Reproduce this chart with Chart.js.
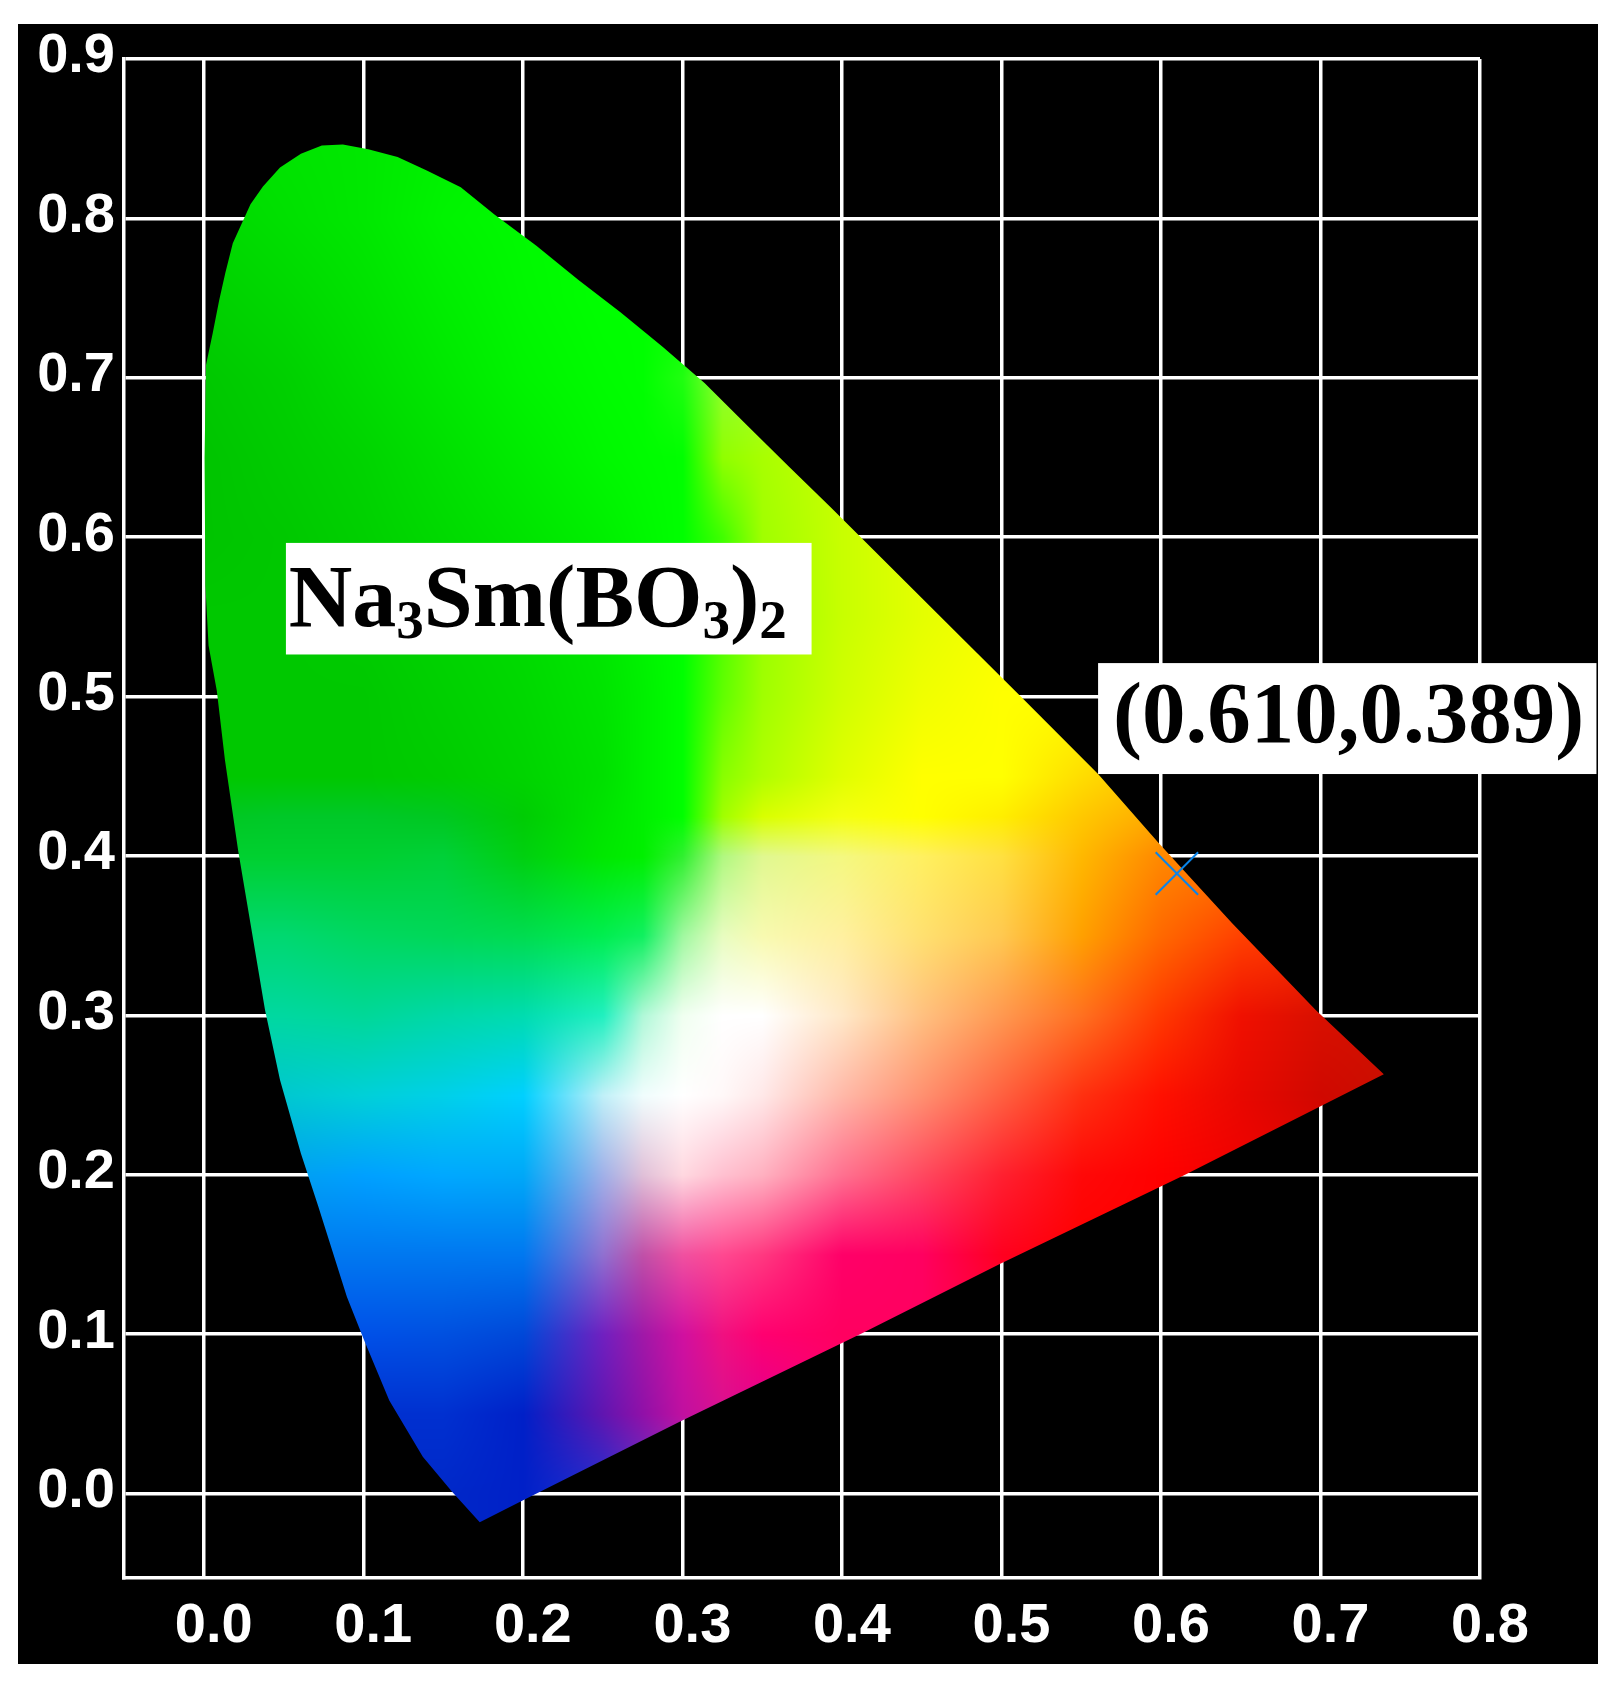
<!DOCTYPE html>
<html>
<head>
<meta charset="utf-8">
<title>CIE diagram</title>
<script src="https://cdn.jsdelivr.net/npm/chart.js@4/dist/chart.umd.js"></script>
<style>
    html, body { margin: 0; padding: 0; background: #fff; overflow: hidden; }
    #cieChart { position: absolute; left: 18px; top: 24px; background: #000; }
</style>
</head>
<body>
<canvas id="cieChart" width="1580" height="1640"></canvas>
<script>
const xTicks = [0, 0.1, 0.2, 0.3, 0.4, 0.5, 0.6, 0.7, 0.8];
const yTicks = [0, 0.1, 0.2, 0.3, 0.4, 0.5, 0.6, 0.7, 0.8, 0.9];
const xTickLabels = ['0.0', '0.1', '0.2', '0.3', '0.4', '0.5', '0.6', '0.7', '0.8'];
const yTickLabels = ['0.0', '0.1', '0.2', '0.3', '0.4', '0.5', '0.6', '0.7', '0.8', '0.9'];

// gamut outline
const locusX = [0.173, 0.1558, 0.1373, 0.1163, 0.1004, 0.0897, 0.0716, 0.0609, 0.0478, 0.0384, 0.0293, 0.0215, 0.0133, 0.0082, 0.003, 0.001, 0.0005, 0.0014, 0.0056, 0.0096, 0.0135, 0.0182, 0.0293, 0.0371, 0.0478, 0.0609, 0.074, 0.0872, 0.1031, 0.1215, 0.1398, 0.1611, 0.1822, 0.2085, 0.2349, 0.2612, 0.2876, 0.3139, 0.3402, 0.3664, 0.3928, 0.4765, 0.5137, 0.5606, 0.5987, 0.6445, 0.697, 0.7397, 0.6145, 0.499, 0.413, 0.298, 0.2005, 0.173];
const locusY = [-0.018, 0.001, 0.023, 0.0583, 0.0964, 0.1235, 0.1807, 0.2134, 0.2595, 0.3034, 0.3575, 0.4037, 0.46, 0.5035, 0.532, 0.57, 0.65, 0.708, 0.728, 0.7484, 0.7657, 0.7844, 0.8088, 0.82, 0.832, 0.8405, 0.8457, 0.8463, 0.8434, 0.8385, 0.83, 0.8195, 0.8025, 0.7829, 0.7613, 0.7411, 0.7195, 0.6967, 0.6706, 0.6447, 0.6189, 0.5355, 0.4985, 0.4514, 0.408, 0.358, 0.3034, 0.263, 0.1997, 0.144, 0.1007, 0.0449, -0.004, -0.018];

// measured colour point
const markX = [0.610];
const markY = [0.389];
const markLabel = '(0.610,0.389)';
const formulaRuns = [['Na', 0], ['3', 1], ['Sm(BO', 0], ['3', 1], [')', 0], ['2', 1]];

// colours at these chromaticity stops
const colourStopsX = [0, 0.05, 0.1, 0.15, 0.2, 0.25, 0.275, 0.3, 0.325, 0.35, 0.4, 0.45, 0.5, 0.55, 0.6, 0.65, 0.7, 0.75];
const colourStopsY = [0.85, 0.8, 0.75, 0.7, 0.65, 0.6, 0.55, 0.5, 0.45, 0.425, 0.4, 0.35, 0.3, 0.25, 0.2, 0.15, 0.1, 0.05, 0, -0.06];
const colourGrid = [
    '00e000 00e400 00e800 00f000 00f400 00f800 00ff00 00ff00 00ff00 00ff00 00ff00 00ff00 00ff00 00ff00 00ff00 00ff00 00ff00 00ff00',
    '00d800 00e000 00e800 00f400 00fa00 00ff00 00ff00 00ff00 00ff00 00ff00 00ff00 00ff00 00ff00 00ff00 00ff00 00ff00 00ff00 00ff00',
    '00d000 00d800 00e200 00ee00 00f800 00ff00 00ff00 00ff00 00ff00 00ff00 00ff00 00ff00 00ff00 00ff00 00ff00 00ff00 00ff00 00ff00',
    '00c800 00d000 00dc00 00e800 00f400 00fc00 00ff00 20ff10 90ff30 a0ff30 c0ff00 c0ff00 c0ff00 c0ff00 c0ff00 c0ff00 c0ff00 c0ff00',
    '00c400 00cc00 00d400 00e000 00ec00 00f800 00fc00 00ff00 90ff00 a8ff00 c8ff00 e0ff00 e0ff00 e0ff00 e0ff00 e0ff00 e0ff00 e0ff00',
    '00c400 00c800 00d000 00da00 00e400 00f000 00f800 00ff00 40ff00 a0ff00 c8ff00 e4ff00 f8ff00 ffff00 ffff00 ffff00 ffff00 ffff00',
    '00c800 00c800 00cc00 00d400 00dc00 00e800 00f400 00ff00 50ff00 98ff00 c8ff00 e4ff00 f8ff00 ffff00 ffff00 ffff00 ffff00 ffff00',
    '00c800 00c800 00c800 00d000 00d800 00e400 00f000 00ff00 60ff00 a0ff00 d0ff00 f0ff00 ffff00 ffff00 fff000 fff000 fff000 fff000',
    '00c800 00c800 00c800 00cc00 00d400 00e000 00f000 00ff00 88ff00 b0ff00 e0ff00 ffff00 ffff00 ffdd00 ffc000 ffc000 ffc000 ffc000',
    '00c820 00c828 00c828 00c820 00cc04 00e400 00f000 00ff00 a0ff00 d8ff00 f4ff10 ffff00 ffee00 ffc800 ffa800 ff9800 ff9000 ff9000',
    '00d030 00d030 00d030 00d038 00d010 00e800 00f000 30f030 b0f880 e0f890 f4f880 fff060 ffe040 ffb800 ff8800 ff7800 ff7000 ff7000',
    '00d870 00d870 00d860 00d858 00dc50 00ee50 10f060 a0f8a0 e8fcc0 f8fab0 fff0a0 ffe070 ffc850 ffa000 ff6800 ff4000 ff3000 ff3000',
    '00d8a0 00d8a0 00d898 00d8a8 00dcb0 20f0c0 b0f8d8 f0fff0 ffffff ffffff ffe8c8 ffc080 ff9850 ff7020 ff3800 f01000 d81000 d01000',
    '00c8d0 00c8d0 00d0d8 00d0e8 00d0ff c0f0f8 f0fdfd ffffff fff8f8 ffe8e8 ffb8a8 ff9070 ff6040 ff3010 ff1000 e80800 d00800 c81000',
    '00a0f0 00a0f0 00a0ff 00a8ff 00a8f8 a0b0e8 e0c0d8 ffd8e0 ffc0d0 ffb0c0 ff7090 ff4860 ff2030 ff0808 ff0000 f00000 e00000 d00000',
    '0078f0 0078f0 0078f0 0078f0 0078f0 9070d0 c050a8 f050a0 ff4890 ff3880 ff0068 ff0060 ff0020 ff0000 ff0000 ff0000 ff0000 ff0000',
    '0050e8 0050e8 0050e8 0050e0 0048d8 7020c0 a018a8 d010a0 f01080 ff0070 ff0060 ff0060 ff0040 ff0040 ff0040 ff0040 ff0040 ff0040',
    '0030d0 0030d0 0030d0 0030d0 0020c8 6015b0 9010a8 c010a0 d81090 e00090 ff0070 ff0070 ff0070 ff0070 ff0070 ff0070 ff0070 ff0070',
    '0028c8 0028c8 0028c8 0028c8 0020c8 2030d0 5038c8 8040c0 a040b0 c030a0 c030a0 c030a0 c030a0 c030a0 c030a0 c030a0 c030a0 c030a0',
    '0028c8 0028c8 0028c8 0028c8 0020c8 2030d0 5038c8 8040c0 a040b0 c030a0 c030a0 c030a0 c030a0 c030a0 c030a0 c030a0 c030a0 c030a0'
];

const colourTable = colourGrid.map(row => row.split(' ').map(h => [
    parseInt(h.slice(0, 2), 16), parseInt(h.slice(2, 4), 16), parseInt(h.slice(4, 6), 16)
]));

// position of v among the stops, as [index, fraction]
function locate(stops, v) {
    const dir = stops[1] > stops[0] ? 1 : -1;
    let i = 0;
    while (i < stops.length - 2 && (stops[i + 1] - v) * dir < 0) i++;
    const f = (v - stops[i]) / (stops[i + 1] - stops[i]);
    return [i, Math.min(1, Math.max(0, f))];
}

function buildColourField(chart) {
    const xScale = chart.scales.x;
    const yScale = chart.scales.y;
    const off = document.createElement('canvas');
    off.width = chart.width;
    off.height = chart.height;
    const octx = off.getContext('2d');
    const img = octx.createImageData(off.width, off.height);
    const xLookup = [];
    for (let px = 0; px < off.width; px++) xLookup.push(locate(colourStopsX, xScale.getValueForPixel(px)));
    for (let py = 0; py < off.height; py++) {
        const [r0, fy] = locate(colourStopsY, yScale.getValueForPixel(py));
        for (let px = 0; px < off.width; px++) {
            const [c0, fx] = xLookup[px];
            const a = colourTable[r0][c0], b = colourTable[r0][c0 + 1];
            const c = colourTable[r0 + 1][c0], d = colourTable[r0 + 1][c0 + 1];
            const i = (py * off.width + px) * 4;
            for (let k = 0; k < 3; k++) {
                img.data[i + k] = (a[k] * (1 - fx) + b[k] * fx) * (1 - fy) + (c[k] * (1 - fx) + d[k] * fx) * fy;
            }
            img.data[i + 3] = 255;
        }
    }
    octx.putImageData(img, 0, 0);
    return chart.ctx.createPattern(off, 'no-repeat');
}

function drawLabelBox(chart, left, right, top, bottom) {
    const { x, y } = chart.scales;
    const ctx = chart.ctx;
    ctx.fillStyle = '#fff';
    ctx.fillRect(x.getPixelForValue(left), y.getPixelForValue(top),
        x.getPixelForValue(right) - x.getPixelForValue(left),
        y.getPixelForValue(bottom) - y.getPixelForValue(top));
}

const labelPlugin = {
    id: 'labelPlugin',
    afterLayout(chart) {
        chart.data.datasets[0].backgroundColor = buildColourField(chart);
    },
    afterDraw(chart) {
        const { x, y } = chart.scales;
        const ctx = chart.ctx;
        ctx.save();
        ctx.textAlign = 'left';
        ctx.textBaseline = 'alphabetic';

        drawLabelBox(chart, 0.0515, 0.381, 0.5964, 0.5264);
        let penX = x.getPixelForValue(0.0533);
        const baseY = y.getPixelForValue(0.5442);
        ctx.fillStyle = '#000';
        formulaRuns.forEach(([text, isSub]) => {
            ctx.font = isSub ? 'bold 55px "Liberation Serif"' : 'bold 88px "Liberation Serif"';
            ctx.fillText(text, penX, baseY + (isSub ? 12 : 0));
            penX += ctx.measureText(text).width;
        });

        drawLabelBox(chart, 0.5606, 0.873, 0.521, 0.4514);
        ctx.fillStyle = '#000';
        ctx.font = 'bold 87px "Liberation Serif"';
        ctx.fillText(markLabel, x.getPixelForValue(0.570), y.getPixelForValue(0.4717));
        ctx.restore();
    }
};

const tickFont = { family: '"Liberation Sans"', size: 56, weight: 'bold' };

new Chart(document.getElementById('cieChart').getContext('2d'), {
    type: 'scatter',
    plugins: [labelPlugin],
    data: {
        datasets: [
            {
                label: 'Gamut',
                data: locusX.map((v, i) => ({ x: v, y: locusY[i] })),
                showLine: true,
                fill: 'shape',
                borderWidth: 0,
                pointRadius: 0,
                tension: 0,
                order: 2
            },
            {
                label: 'Sample',
                data: markX.map((v, i) => ({ x: v, y: markY[i] })),
                pointStyle: 'crossRot',
                pointRadius: 30,
                pointBorderColor: '#0a84e8',
                pointBorderWidth: 2,
                order: 1
            }
        ]
    },
    options: {
        responsive: false,
        animation: false,
        layout: { padding: { left: 0, top: 35, right: 118, bottom: 0 } },
        plugins: { legend: { display: false }, tooltip: { enabled: false } },
        scales: {
            x: {
                type: 'linear',
                min: -0.05,
                max: 0.8,
                afterBuildTicks: scale => { scale.ticks = xTicks.map(value => ({ value })); },
                afterFit: scale => { scale.height = 86; scale.paddingLeft = 0; scale.paddingRight = 0; },
                border: { color: '#fff', width: 3.5 },
                grid: { color: '#fff', lineWidth: 3.5, drawTicks: false },
                ticks: {
                    color: '#fff',
                    font: tickFont,
                    padding: 15,
                    labelOffset: 10,
                    autoSkip: false,
                    maxRotation: 0,
                    callback: (v, i) => xTickLabels[i]
                }
            },
            y: {
                type: 'linear',
                min: -0.053,
                max: 0.9,
                afterBuildTicks: scale => { scale.ticks = yTicks.map(value => ({ value })); },
                afterFit: scale => { scale.width = 106; scale.paddingTop = 0; scale.paddingBottom = 0; },
                border: { color: '#fff', width: 3.5 },
                grid: { color: '#fff', lineWidth: 3.5, drawTicks: false },
                ticks: {
                    color: '#fff',
                    font: tickFont,
                    padding: 9,
                    labelOffset: -2,
                    autoSkip: false,
                    callback: (v, i) => yTickLabels[i]
                }
            }
        }
    }
});
</script>
</body>
</html>
